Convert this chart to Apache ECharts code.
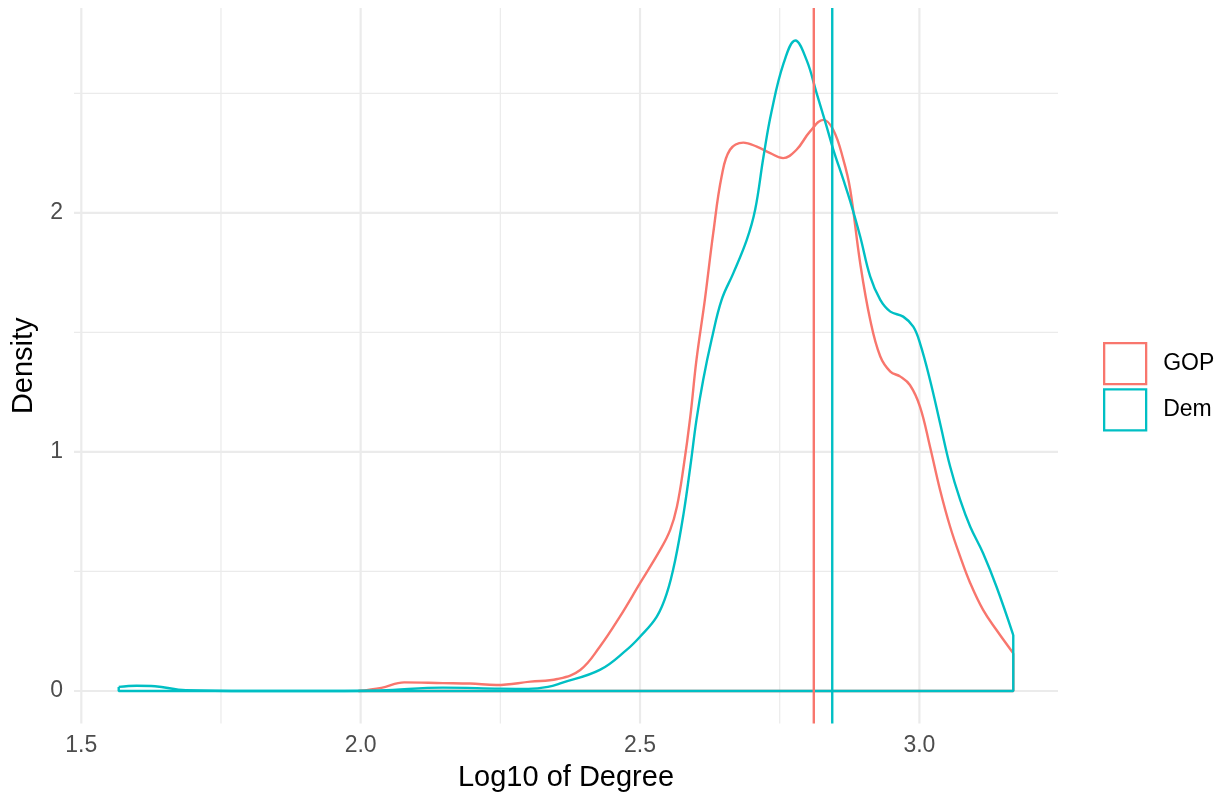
<!DOCTYPE html>
<html><head><meta charset="utf-8">
<script src="https://cdn.jsdelivr.net/npm/echarts@6/dist/echarts.min.js"></script>
<style>html,body{margin:0;padding:0;background:#fff}#c{width:1225px;height:801px}</style>
</head><body><div id="c"></div>
<script>
// ---- data ----
const groupNames = ['GOP', 'Dem'];
const groupColors = ['#F8766D', '#00BFC4'];
const groupMeans = [2.811, 2.844];

const gopX = [1.996, 2.037, 2.078, 2.147, 2.196, 2.243, 2.304, 2.352, 2.393, 2.428, 2.464, 2.500, 2.536, 2.554, 2.566, 2.578, 2.590, 2.601, 2.616, 2.631, 2.646, 2.661, 2.685, 2.709, 2.733, 2.756, 2.780, 2.804, 2.828, 2.846, 2.864, 2.876, 2.894, 2.912, 2.930, 2.948, 2.966, 2.983, 3.001, 3.019, 3.037, 3.055, 3.073, 3.091, 3.114, 3.138, 3.168];
const gopY = [0.000, 0.013, 0.036, 0.033, 0.031, 0.025, 0.039, 0.050, 0.088, 0.185, 0.311, 0.451, 0.590, 0.674, 0.771, 0.939, 1.148, 1.385, 1.636, 1.915, 2.152, 2.264, 2.294, 2.277, 2.250, 2.229, 2.264, 2.340, 2.389, 2.347, 2.222, 2.100, 1.790, 1.552, 1.399, 1.336, 1.315, 1.280, 1.190, 1.022, 0.841, 0.687, 0.562, 0.451, 0.339, 0.255, 0.158];

const demX = [1.567, 1.599, 1.632, 1.687, 1.802, 1.945, 2.035, 2.147, 2.249, 2.300, 2.335, 2.360, 2.428, 2.476, 2.500, 2.530, 2.548, 2.563, 2.578, 2.590, 2.601, 2.613, 2.628, 2.646, 2.667, 2.691, 2.706, 2.721, 2.735, 2.757, 2.778, 2.798, 2.816, 2.834, 2.846, 2.864, 2.876, 2.894, 2.912, 2.930, 2.948, 2.971, 2.989, 3.001, 3.019, 3.037, 3.055, 3.073, 3.091, 3.114, 3.138, 3.168];
const demY = [0.017, 0.022, 0.020, 0.003, 0.000, 0.000, 0.002, 0.014, 0.010, 0.009, 0.017, 0.034, 0.088, 0.172, 0.227, 0.311, 0.409, 0.548, 0.743, 0.939, 1.134, 1.301, 1.469, 1.636, 1.748, 1.887, 2.013, 2.236, 2.420, 2.626, 2.721, 2.640, 2.501, 2.361, 2.264, 2.138, 2.050, 1.901, 1.733, 1.636, 1.587, 1.566, 1.524, 1.455, 1.301, 1.120, 0.939, 0.799, 0.687, 0.576, 0.436, 0.234];

const xMajor = [1.5, 2.0, 2.5, 3.0];
const xMinor = [1.75, 2.25, 2.75];
const yMajor = [0, 1, 2];
const yMinor = [0.5, 1.5, 2.5];
const xTitle = 'Log10 of Degree';
const yTitle = 'Density';

// ---- scales (ggplot-style 5% expansion) ----
const allX = gopX.concat(demX), allY = gopY.concat(demY, [0]);
const xLo = Math.min(...allX), xHi = Math.max(...allX);
const yLo = Math.min(...allY), yHi = Math.max(...allY);
const xMin = xLo - 0.05 * (xHi - xLo), xMax = xHi + 0.05 * (xHi - xLo);
const yMin = yLo - 0.05 * (yHi - yLo), yMax = yHi + 0.05 * (yHi - yLo);

const FONT = '"Liberation Sans", Arial, Helvetica, sans-serif';
const GRID = '#EBEBEB';
const LW = 2.4;

const series = [];
function seg(data, color, width, z) {
  series.push({ type: 'line', data: data, showSymbol: false, symbol: 'none', silent: true,
    lineStyle: { color: color, width: width }, z: z, animation: false, clip: true });
}
xMinor.forEach(v => seg([[v, yMin], [v, yMax]], GRID, 1.2, 1));
yMinor.forEach(v => seg([[xMin, v], [xMax, v]], GRID, 1.2, 1));
xMajor.forEach(v => seg([[v, yMin], [v, yMax]], GRID, 2.2, 1));
yMajor.forEach(v => seg([[xMin, v], [xMax, v]], GRID, 2.2, 1));

const groups = [[gopX, gopY], [demX, demY]];
groups.forEach((g, i) => {
  const xs = g[0], ys = g[1];
  const n = xs.length;
  series.push({ name: groupNames[i], type: 'line', data: xs.map((x, k) => [x, ys[k]]),
    smooth: 0.4, showSymbol: false, symbol: 'none', silent: true,
    lineStyle: { color: groupColors[i], width: LW }, itemStyle: { color: groupColors[i] }, z: 2 + i, animation: false });
  series.push({ type: 'line', data: [[xs[n - 1], ys[n - 1]], [xs[n - 1], 0], [xs[0], 0], [xs[0], ys[0]]],
    showSymbol: false, symbol: 'none', silent: true,
    lineStyle: { color: groupColors[i], width: LW }, z: 2 + i, animation: false });
});
groupMeans.forEach((m, i) => seg([[m, yMin], [m, yMax]], groupColors[i], LW, 5 + i));

const chart = echarts.init(document.getElementById('c'), null, { renderer: 'canvas' });
chart.setOption({
  backgroundColor: '#ffffff',
  animation: false,
  grid: { left: 74, right: 167, top: 8, bottom: 77.5, containLabel: false },
  xAxis: {
    type: 'value', min: xMin, max: xMax,
    axisLine: { show: false }, axisTick: { show: false }, splitLine: { show: false },
    axisLabel: { customValues: xMajor, formatter: v => Number(v).toFixed(1), color: '#4D4D4D',
      fontSize: 23, fontFamily: FONT, margin: 11 },
    name: xTitle, nameLocation: 'middle', nameGap: 40,
    nameTextStyle: { color: '#000', fontSize: 29, fontFamily: FONT }
  },
  yAxis: {
    type: 'value', min: yMin, max: yMax,
    axisLine: { show: false }, axisTick: { show: false }, splitLine: { show: false },
    axisLabel: { customValues: yMajor, formatter: v => String(Math.round(v)), color: '#4D4D4D',
      fontSize: 23, fontFamily: FONT, margin: 11 },
    name: yTitle, nameLocation: 'middle', nameGap: 36,
    nameTextStyle: { color: '#000', fontSize: 29, fontFamily: FONT }
  },
  legend: {
    orient: 'vertical', left: 1098, top: 337, itemWidth: 42, itemHeight: 41, itemGap: 3,
    selectedMode: false,
    textStyle: { color: '#000', fontSize: 23, fontFamily: FONT, padding: [0, 0, 0, 12] },
    data: groupNames.map((nm, i) => ({ name: nm, icon: 'rect',
      itemStyle: { color: 'rgba(0,0,0,0)', borderColor: groupColors[i], borderWidth: 2.3 } }))
  },
  series: series
});
</script></body></html>
